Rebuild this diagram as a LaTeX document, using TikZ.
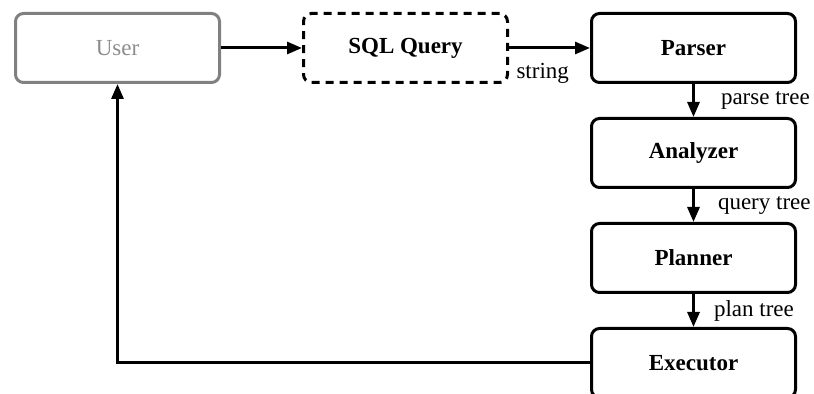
\documentclass[tikz,border=0pt]{standalone}
\usepackage{fontspec}
\setmainfont{Liberation Serif}
\usetikzlibrary{arrows.meta,positioning}
\tikzstyle{stage}=[
	rectangle,
	rounded corners=4pt,
	line width=1.5pt,
	draw=black,
	minimum width=102pt,
	minimum height=34.5pt,
	font=\fontsize{11.5}{14}\selectfont\bfseries,
	node distance=16.5pt and 40.5pt
]
\tikzstyle{client}=[
	stage,
	draw=black!50,
	text=black!45,
	font=\fontsize{11.5}{14}\selectfont
]
\tikzstyle{input}=[
	stage,
	dash pattern=on 4pt off 3pt
]
\tikzstyle{flow}=[
	-{Triangle[length=7.5pt,width=6pt]},
	line width=1.5pt
]
\tikzstyle{tag}=[
	font=\fontsize{11.5}{14}\selectfont,
	inner sep=1pt
]

\begin{document}
\begin{tikzpicture}
\useasboundingbox (0,0) rectangle (407pt,-197pt);
\node [client] (User) at (58.75pt,-24pt) {User};
\node [input] (SQLQuery)[right=of User] {SQL Query};
\node [stage] (Parser)[right=of SQLQuery] {Parser};
\node [stage] (Analyzer)[below=of Parser] {Analyzer};
\node [stage] (Planner)[below=of Analyzer] {Planner};
\node [stage] (Executor)[below=of Planner] {Executor};
\draw [flow] (User) -- (SQLQuery);
\draw [flow] (SQLQuery) -- node [tag, pos=0, anchor=north west, xshift=2pt, yshift=-6pt] {string} (Parser);
\draw [flow] (Parser) -- node [tag, anchor=west, xshift=12pt] {parse tree} (Analyzer);
\draw [flow] (Analyzer) -- node [tag, anchor=west, xshift=10.5pt] {query tree} (Planner);
\draw [flow] (Planner) -- node [tag, anchor=west, xshift=8.5pt] {plan tree} (Executor);
\draw [flow] (Executor.west) -| (User.south);
\end{tikzpicture}
\end{document}
